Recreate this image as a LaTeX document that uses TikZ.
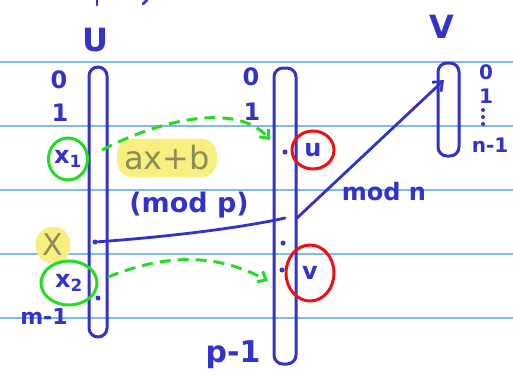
\documentclass[tikz,border=0pt]{standalone}
\usepackage{fontspec}
\setmainfont{DejaVu Sans}
\usetikzlibrary{arrows.meta,shapes.geometric}
\definecolor{pen}{HTML}{3333CC}
\definecolor{rule}{HTML}{80B8F5}
\definecolor{gpen}{HTML}{22DD22}
\definecolor{rpen}{HTML}{EE1111}
\definecolor{hl}{HTML}{F7F080}
\definecolor{hltext}{HTML}{8C8C55}
\tikzset{
  ruleline/.style={rule,line width=1.8pt},
  setbox/.style={draw=pen,line width=3pt,rounded corners=9pt},
  lbl/.style={text=pen,font=\fontsize{24}{24}\selectfont\bfseries,inner sep=1pt},
  bigl/.style={text=pen,font=\fontsize{32}{32}\selectfont\bfseries,inner sep=1pt},
  gcirc/.style={draw=gpen,line width=3pt,ellipse,inner sep=0pt},
  rcirc/.style={draw=rpen,line width=3pt,ellipse,inner sep=0pt},
  hlnode/.style={fill=hl,text=hltext,rounded corners=16pt,inner sep=7pt},
  gdash/.style={draw=gpen,line width=3pt,dash pattern=on 11pt off 7pt,-{Straight Barb[length=7pt,width=12pt]}},
  bline/.style={draw=pen,line width=2.8pt,line cap=round},
  dotm/.style={fill=pen,circle,inner sep=0pt,minimum size=5pt},
}
\begin{document}
\begin{tikzpicture}[x=1pt,y=-1pt]
\useasboundingbox[fill=white] (0,0) rectangle (513,380);
\foreach \yy in {62,126,190,254,318} \draw[ruleline] (0,\yy) -- (513,\yy);
% tiny fragments at the top edge
\draw[bline] (97,0) -- (97,5);
\draw[bline] (143,4) -- (147,0);
% set boxes
\draw[setbox] (89,67) rectangle (107,337);
\draw[setbox] (274,68) rectangle (296,364);
\draw[setbox] (438,63) rectangle (459,156);
% set names
\node[bigl] (U) at (95,40) {U};
\node[bigl] (V) at (442,27) {V};
% U labels
\node[lbl] (u0) at (59,80) {0};
\node[lbl] (u1) at (60,113) {1};
\node[text=pen,font=\fontsize{24}{24}\selectfont\bfseries,gcirc,minimum width=36pt,minimum height=42pt] (x1) at (68,159) {x\textsubscript{1}};
\node[hlnode,font=\fontsize{30}{30}\selectfont] (X) at (53,245) {X};
\node[text=pen,font=\fontsize{24}{24}\selectfont\bfseries,gcirc,minimum width=56pt,minimum height=44pt] (x2) at (69,283) {x\textsubscript{2}};
\node[lbl,font=\fontsize{22}{22}\selectfont\bfseries] (um) at (44,316) {m-1};
% middle labels
\node[lbl] (p0) at (251,77) {0};
\node[lbl] (p1) at (252,112) {1};
\node[lbl,font=\fontsize{30}{30}\selectfont\bfseries] (pp) at (233,355) {p-1};
\node[text=pen,font=\fontsize{24}{24}\selectfont\bfseries,rcirc,minimum width=42pt,minimum height=38pt] (u) at (313,150) {u};
\node[text=pen,font=\fontsize{24}{24}\selectfont\bfseries,rcirc,minimum width=48pt,minimum height=56pt] (v) at (310,273) {v};
% V labels
\node[lbl,font=\fontsize{20}{20}\selectfont\bfseries] (v0) at (486,72) {0};
\node[lbl,font=\fontsize{20}{20}\selectfont\bfseries] (v1) at (486,96) {1};
\foreach \dy in {110,117,124} \fill[pen] (483,\dy) circle (2pt);
\node[lbl,font=\fontsize{20}{20}\selectfont\bfseries] (vn) at (490,145) {n-1};
% formula labels
\node[hlnode,font=\fontsize{32}{32}\selectfont] (f) at (167,158) {ax+b};
\node[lbl,font=\fontsize{27}{27}\selectfont\bfseries] (mp) at (189,205) {(mod p)};
\node[lbl,font=\fontsize{24}{24}\selectfont\bfseries] (mn) at (384,192) {mod n};
% points
\coordinate (a1) at (102,150);
\coordinate (b1) at (270,140);
\coordinate (a2) at (108,277);
\coordinate (b2) at (268,281);
\node[dotm] (dx) at (95,242) {};
\node[dotm] (d2) at (98,298) {};
\node[dotm] (dm1) at (283,243) {};
\node[dotm] (dm2) at (282,270) {};
\node[dotm] (dm3) at (285,152) {};
\coordinate (hx) at (285,218);
\coordinate (hs) at (297,218);
\coordinate (ve) at (444,80);
% connectors
\draw[gdash] (a1) .. controls (170,115) and (240,105) .. (b1);
\draw[gdash] (a2) .. controls (170,252) and (220,255) .. (b2);
\draw[bline] (dx) .. controls (180,236) and (250,226) .. (hx);
\draw[bline,-{Straight Barb[length=8pt,width=13pt]}] (hs) -- (ve);
\end{tikzpicture}
\end{document}
